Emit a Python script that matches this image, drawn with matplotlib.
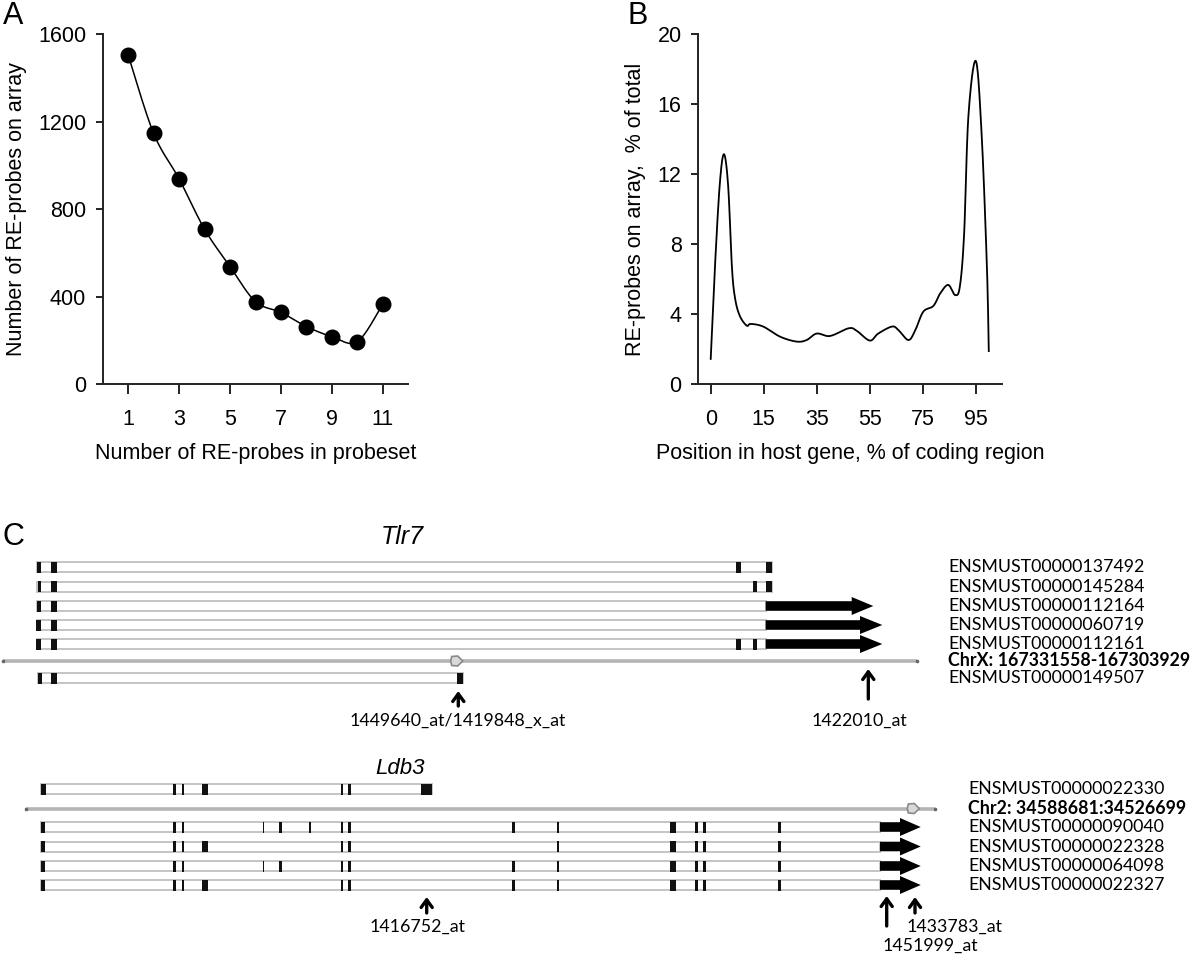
import numpy as np
import matplotlib
matplotlib.use("Agg")
import matplotlib.pyplot as plt
from matplotlib.patches import Rectangle, Polygon

# ---------------- data ----------------
# Panel A
a_x = [1, 2, 3, 4, 5, 6, 7, 8, 9, 10, 11]
a_y = [1505, 1147, 939, 709, 538, 378, 329, 264, 218, 195, 367]
a_xticks = [1, 3, 5, 7, 9, 11]
a_yticks = [0, 400, 800, 1200, 1600]

# Panel B (x in tick-index units; tick labels below)
b_x = [0.0, 0.08, 0.17, 0.25, 0.33, 0.40, 0.46, 0.55, 0.68, 0.755, 0.99, 1.31,
       1.62, 1.81, 2.0, 2.25, 2.6, 2.75, 3.0, 3.16, 3.42, 3.54, 3.73, 3.86,
       4.01, 4.2, 4.33, 4.48, 4.61, 4.7, 4.78, 4.86, 5.0, 5.11, 5.21, 5.245]
b_y = [1.45, 6.7, 11.4, 13.15, 11.3, 6.7, 4.9, 3.9, 3.35, 3.45, 3.3, 2.72,
       2.44, 2.53, 2.9, 2.76, 3.2, 3.07, 2.5, 2.9, 3.3, 3.1, 2.53, 3.1,
       4.15, 4.48, 5.2, 5.68, 5.1, 5.6, 8.6, 15.3, 18.48, 14.3, 6.7, 1.9]
b_ticklabels = ["0", "15", "35", "55", "75", "95"]
b_yticks = [0, 4, 8, 12, 16, 20]

# Panel C gene models (track coordinates)
tlr7_names = ["ENSMUST00000137492", "ENSMUST00000145284", "ENSMUST00000112164",
              "ENSMUST00000060719", "ENSMUST00000112161", "ENSMUST00000149507"]
tlr7_spans = [(37, 771.7), (37, 771.7), (37, 765.7), (37, 765.7), (37, 765.7), (38, 462.7)]
tlr7_exons = [
    [(36.7, 40.7), (50.7, 56.7), (736, 740.7), (765.7, 771.7)],
    [(38.3, 40.7), (50.7, 56.7), (752.7, 756.7), (765.7, 771.7)],
    [(36.7, 40.7), (50.7, 56.7)],
    [(36, 40.7), (50.7, 56.7)],
    [(36, 40.7), (50.7, 56.7), (736, 740.7), (752.7, 756.7)],
    [(38, 41.7), (50.7, 56.7), (457.3, 462.7)],
]
tlr7_utr = [None, None, (765.7, 851.7, 873.3), (765.7, 860, 882.3), (765.7, 860, 882.3), None]
tlr7_chr = "ChrX: 167331558-167303929"
tlr7_chr_span = (3.3, 916.7)
tlr7_chr_mark = 456.7
tlr7_probes = ["1449640_at/1419848_x_at", "1422010_at"]
tlr7_probe_pos = [458.3, 868.3]

ldb3_names = ["ENSMUST00000022330", "ENSMUST00000090040", "ENSMUST00000022328",
              "ENSMUST00000064098", "ENSMUST00000022327"]
ldb3_spans = [(40.7, 431.7), (40.7, 880), (40.7, 880), (40.7, 880), (40.7, 880)]
ldb3_exons = [
    [(40.7, 45.7), (173.3, 176), (181.7, 184.3), (201.7, 208.3), (340.7, 343.3), (348.3, 351), (420.7, 431.7)],
    [(40.7, 45), (173.3, 176), (181.7, 184.3), (262.7, 264.3), (279, 281.7), (309.3, 311), (340.7, 343.3),
     (348.3, 351), (511.7, 515), (556.7, 559.3), (670, 676), (695, 697.7), (703.3, 706), (778.3, 781)],
    [(40.7, 45), (173.3, 176), (181.7, 184.3), (201.7, 208.3), (340.7, 343.3), (348.3, 351),
     (556.7, 559.3), (670, 676), (695, 697.7), (703.3, 706), (778.3, 781)],
    [(40.7, 45), (173.3, 176), (181.7, 184.3), (262.7, 264.3), (279, 281.7), (340.7, 343.3), (348.3, 351),
     (511.7, 515), (556.7, 559.3), (670, 676), (695, 697.7), (703.3, 706), (778.3, 781)],
    [(40.7, 45), (173.3, 176), (181.7, 184.3), (201.7, 208.3), (340.7, 343.3), (348.3, 351),
     (511.7, 515), (556.7, 559.3), (670, 676), (695, 697.7), (703.3, 706), (778.3, 781)],
]
ldb3_utr = [None, (880, 900, 920.7), (880, 900, 920.7), (880, 900, 920.7), (880, 900, 920.7)]
ldb3_chr = "Chr2: 34588681:34526699"
ldb3_chr_span = (26, 935)
ldb3_chr_mark = 913.3
ldb3_probes = ["1416752_at", "1451999_at", "1433783_at"]
ldb3_probe_pos = [426.7, 886.7, 915]


# ---------------- helpers ----------------
def catmull(x, y, n=24):
    p = np.column_stack([x, y]).astype(float)
    p = np.vstack([p[0], p, p[-1]])
    out = []
    t = np.linspace(0, 1, n, endpoint=False)[:, None]
    for i in range(1, len(p) - 2):
        p0, p1, p2, p3 = p[i - 1], p[i], p[i + 1], p[i + 2]
        seg = 0.5 * ((2 * p1) + (-p0 + p2) * t + (2 * p0 - 5 * p1 + 4 * p2 - p3) * t ** 2
                     + (-p0 + 3 * p1 - 3 * p2 + p3) * t ** 3)
        out.append(seg)
    out.append(p[-2][None, :])
    s = np.vstack(out)
    return s[:, 0], s[:, 1]


plt.rcParams['font.family'] = ['Liberation Sans', 'DejaVu Sans']
fig = plt.figure(figsize=(12, 9.57), dpi=100)
W, H = 1200, 957


def style_axes(ax):
    for s in ["top", "right"]:
        ax.spines[s].set_visible(False)
    for s in ["left", "bottom"]:
        ax.spines[s].set_linewidth(1.4)
        ax.spines[s].set_color("#222222")
    ax.tick_params(axis="y", direction="out", length=5, width=1.4, pad=7, labelsize=15.5, color="#222222")
    ax.tick_params(axis="x", direction="out", length=7, width=1.4, pad=11, labelsize=15.5, color="#222222")


# ---------------- Panel A ----------------
axA = fig.add_axes([102.7 / W, 1 - 384.3 / H, 305.6 / W, 350 / H])
sx, sy = catmull(a_x, a_y)
axA.plot(sx, sy, color="black", lw=1.1, zorder=2)
axA.plot(a_x, a_y, "o", color="black", ms=10.5, zorder=3)
axA.set_xlim(0, 12)
axA.set_ylim(0, 1600)
axA.set_xticks(a_xticks)
axA.set_yticks(a_yticks)
style_axes(axA)
axA.set_xlabel("Number of RE-probes in probeset", fontsize=15.5, labelpad=9)
axA.set_ylabel("Number of RE-probes on array", fontsize=15.5, labelpad=8)
fig.text(3 / W, 1 - 24 / H, "A", fontsize=22)

# ---------------- Panel B ----------------
axB = fig.add_axes([698.3 / W, 1 - 384.3 / H, 304 / W, 350 / H])
bx, by = catmull(b_x, b_y, n=16)
axB.plot(bx, by, color="black", lw=1.3)
axB.set_xlim(-0.234, 5.5)
axB.set_ylim(0, 20)
axB.set_xticks(range(len(b_ticklabels)))
axB.set_xticklabels(b_ticklabels)
axB.set_yticks(b_yticks)
style_axes(axB)
axB.set_xlabel("Position in host gene, % of coding region", fontsize=15.5, labelpad=9)
axB.set_ylabel("RE-probes on array,  % of total", fontsize=15.5, labelpad=8)
fig.text(627 / W, 1 - 24 / H, "B", fontsize=22)

# ---------------- Panel C ----------------
axC = fig.add_axes([0, 0, 1, 1], zorder=-1)
axC.set_xlim(0, W)
axC.set_ylim(H, 0)
axC.axis("off")

cfont = ['Lato', 'DejaVu Sans']
BOXH = 10.0
EDGE = "#c4c4c4"


def draw_transcript(y, span, exons, utr):
    s, e = span
    axC.add_patch(Rectangle((s, y - BOXH / 2), e - s, BOXH, facecolor="white",
                            edgecolor=EDGE, lw=1.4, zorder=1))
    for (a, b) in exons:
        axC.add_patch(Rectangle((a, y - BOXH / 2 - 0.5), b - a, BOXH + 1, facecolor="#111111",
                                edgecolor="none", zorder=2))
    if utr is not None:
        x0, xh, xt = utr
        bh, hh = 4.8, 9.0
        poly = [(x0, y - bh), (xh, y - bh), (xh, y - hh), (xt, y),
                (xh, y + hh), (xh, y + bh), (x0, y + bh)]
        axC.add_patch(Polygon(poly, closed=True, facecolor="black", edgecolor="none", zorder=3))


def draw_chr(y, span, mark):
    axC.plot(span, [y, y], color="#b4b4b4", lw=2.6, solid_capstyle="butt", zorder=1)
    axC.plot(span, [y, y], "o", color="#666666", ms=1.6, zorder=2)
    m = mark
    poly = [(m - 5, y - 4.5), (m + 1, y - 5), (m + 6, y), (m + 1, y + 5), (m - 5, y + 4.5), (m - 6, y)]
    axC.add_patch(Polygon(poly, closed=True, facecolor="#d9d9d9", edgecolor="#8a8a8a", lw=1.2, zorder=3))


def probe_arrow(x, y_tail, y_head):
    axC.annotate("", xy=(x, y_head), xytext=(x, y_tail),
                 arrowprops=dict(arrowstyle="->,head_length=0.55,head_width=0.4",
                                 lw=2.4, color="black", shrinkA=0, shrinkB=0))


# Tlr7
fig.text(402 / W, 1 - 537 / H, "Tlr7", fontsize=18, style="italic", ha="center", va="center")
fig.text(3 / W, 1 - 545 / H, "C", fontsize=22)
tlr7_rows = [567, 586.5, 606, 625, 644, 678]
tlr7_chr_y = 661
for i in range(len(tlr7_names)):
    draw_transcript(tlr7_rows[i], tlr7_spans[i], tlr7_exons[i], tlr7_utr[i])
draw_chr(tlr7_chr_y, tlr7_chr_span, tlr7_chr_mark)
lab_rows = tlr7_rows[:5] + [tlr7_chr_y] + tlr7_rows[5:]
lab_txt = tlr7_names[:5] + [tlr7_chr] + tlr7_names[5:]
for yy, t in zip(lab_rows, lab_txt):
    axC.text(948, yy, t, fontsize=12.8, family=cfont, ha="left", va="center",
             weight="bold" if t.startswith("Chr") else "normal")
probe_arrow(tlr7_probe_pos[0], 706, 691)
probe_arrow(tlr7_probe_pos[1], 699, 669)
axC.text(458, 721, tlr7_probes[0], fontsize=12.8, family=cfont, ha="center", va="center")
axC.text(859, 721, tlr7_probes[1], fontsize=12.8, family=cfont, ha="center", va="center")

# Ldb3
fig.text(400 / W, 1 - 768 / H, "Ldb3", fontsize=16, style="italic", ha="center", va="center")
ldb3_rows = [789, 827, 846.5, 866, 885]
ldb3_chr_y = 808.5
for i in range(len(ldb3_names)):
    draw_transcript(ldb3_rows[i], ldb3_spans[i], ldb3_exons[i], ldb3_utr[i])
draw_chr(ldb3_chr_y, ldb3_chr_span, ldb3_chr_mark)
lab_rows = ldb3_rows[:1] + [ldb3_chr_y] + ldb3_rows[1:]
lab_txt = ldb3_names[:1] + [ldb3_chr] + ldb3_names[1:]
for yy, t in zip(lab_rows, lab_txt):
    axC.text(968, yy, t, fontsize=12.8, family=cfont, ha="left", va="center",
             weight="bold" if t.startswith("Chr") else "normal")
probe_arrow(ldb3_probe_pos[0], 913, 897)
probe_arrow(ldb3_probe_pos[1], 926, 896)
probe_arrow(ldb3_probe_pos[2], 913, 897)
axC.text(417.5, 927, ldb3_probes[0], fontsize=12.8, family=cfont, ha="center", va="center")
axC.text(883, 946, ldb3_probes[1], fontsize=12.8, family=cfont, ha="left", va="center")
axC.text(907, 927, ldb3_probes[2], fontsize=12.8, family=cfont, ha="left", va="center")

fig.savefig("out.png", dpi=100)
